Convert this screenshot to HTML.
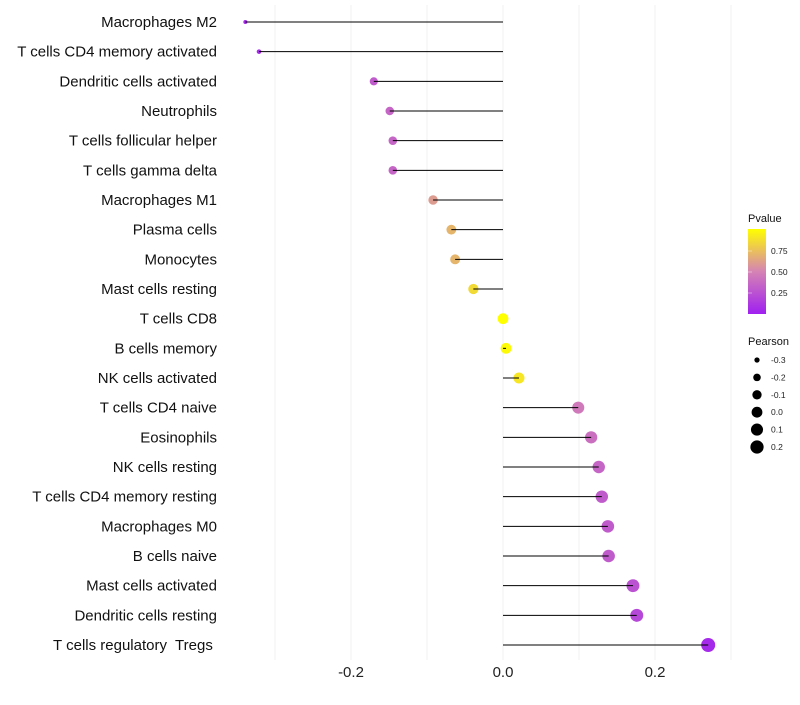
<!DOCTYPE html>
<html><head><meta charset="utf-8"><style>
body{margin:0;background:#fff;}
text{font-family:"Liberation Sans",sans-serif;white-space:pre;}
</style></head><body>
<svg id="chart" width="800" height="700" xmlns="http://www.w3.org/2000/svg" xml:space="preserve">
<defs><linearGradient id="pg" x1="0" y1="1" x2="0" y2="0">
<stop offset="0" stop-color="#a020f0"/><stop offset="0.5" stop-color="#d583b4"/><stop offset="1" stop-color="#ffff00"/>
</linearGradient></defs>
<g id="grid"></g>
<g id="marks"></g>
<g id="ylabels"></g>
<g id="xlabels"></g>
<g>
<text x="748" y="222" font-size="11" fill="#111">Pvalue</text>
<rect x="748" y="229" width="18" height="85" fill="url(#pg)"/>
<g id="cbticks"></g>
</g>
<g id="sizeleg">
<text x="748" y="345" font-size="11" fill="#111">Pearson</text>
</g>
</svg>
<script>
const categories=["Macrophages M2","T cells CD4 memory activated","Dendritic cells activated","Neutrophils","T cells follicular helper","T cells gamma delta","Macrophages M1","Plasma cells","Monocytes","Mast cells resting","T cells CD8","B cells memory","NK cells activated","T cells CD4 naive","Eosinophils","NK cells resting","T cells CD4 memory resting","Macrophages M0","B cells naive","Mast cells activated","Dendritic cells resting","T cells regulatory  Tregs "];
const pearson=[-0.339,-0.321,-0.170,-0.149,-0.145,-0.145,-0.092,-0.068,-0.063,-0.039,0.0,0.004,0.021,0.099,0.116,0.126,0.130,0.138,0.139,0.171,0.176,0.270];
const pvalue=[0.05,0.05,0.3,0.35,0.35,0.35,0.6,0.7,0.7,0.85,1.0,0.98,0.9,0.45,0.4,0.35,0.3,0.3,0.3,0.25,0.2,0.05];
const xTicks=[-0.2,0.0,0.2];
const xTickLabels=["-0.2","0.0","0.2"];
const cbTicks=[0.25,0.5,0.75];
const cbTickLabels=["0.25","0.50","0.75"];
const sizeLegend=[-0.3,-0.2,-0.1,0.0,0.1,0.2];
const sizeLegendLabels=["-0.3","-0.2","-0.1","0.0","0.1","0.2"];

const NS="http://www.w3.org/2000/svg";
const xS=v=>503+v*760;
const yS=i=>22+i*(623/21);
const rS=v=>Math.sqrt(Math.max(3,29.1+73.8*v));
function lerp(a,b,t){return a+(b-a)*t;}
function col(p){const s=[[160,32,240],[213,131,180],[255,255,0]];let a,b,t;if(p<0.5){a=s[0];b=s[1];t=p/0.5;}else{a=s[1];b=s[2];t=(p-0.5)/0.5;}return `rgb(${Math.round(lerp(a[0],b[0],t))},${Math.round(lerp(a[1],b[1],t))},${Math.round(lerp(a[2],b[2],t))})`;}
function mk(tag,attrs,parent){const e=document.createElementNS(NS,tag);for(const k in attrs)e.setAttribute(k,attrs[k]);parent.appendChild(e);return e;}
const grid=document.getElementById('grid');
for(let v=-0.3;v<=0.301;v+=0.1){
const l=mk('line',{x1:xS(v),x2:xS(v),y1:5,y2:660,stroke:'#f0f0f0','stroke-width':1},grid);


}
const marks=document.getElementById('marks');
categories.forEach((c,i)=>{
const y=yS(i);
const pt=mk('circle',{cx:xS(pearson[i]),cy:y,r:rS(pearson[i]),fill:col(pvalue[i])},marks);


const seg=mk('line',{x1:xS(0),x2:xS(pearson[i]),y1:y,y2:y,stroke:'#000','stroke-width':1},marks);


const t=mk('text',{x:217,y:y+5,'text-anchor':'end','font-size':15,fill:'#111'},document.getElementById('ylabels'));
t.textContent=c;


});
xTicks.forEach((v,i)=>{
const t=mk('text',{x:xS(v),y:677,'text-anchor':'middle','font-size':15,fill:'#222'},document.getElementById('xlabels'));
t.textContent=xTickLabels[i];


});
const cb=document.getElementById('cbticks');
cbTicks.forEach((v,i)=>{
const y=314-v*84;
const l=mk('line',{x1:748,x2:752,y1:y,y2:y,stroke:'#fff','stroke-width':0.6,opacity:0.7},cb);


const t=mk('text',{x:771,y:y+3,'font-size':8.5,fill:'#222'},cb);
t.textContent=cbTickLabels[i];


});
const sl=document.getElementById('sizeleg');
sizeLegend.forEach((v,i)=>{
const y=360+i*17.4;
const c=mk('circle',{cx:757,cy:y,r:rS(v),fill:'#000'},sl);


const t=mk('text',{x:771,y:y+3,'font-size':8.5,fill:'#222'},sl);
t.textContent=sizeLegendLabels[i];


});
</script>
</body></html>
